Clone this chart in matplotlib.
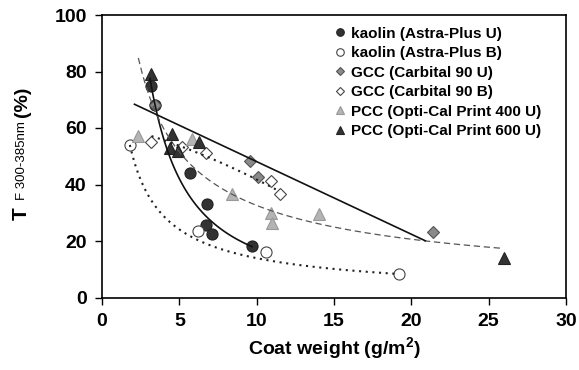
import numpy as np
import matplotlib
matplotlib.use('Agg')
import matplotlib.pyplot as plt

plt.rcParams.update({
    'font.family': 'Liberation Sans',
    'font.weight': 'bold',
    'mathtext.fontset': 'custom',
    'mathtext.rm': 'Liberation Sans:bold',
    'mathtext.bf': 'Liberation Sans:bold',
})

# data
kaolin_u_x = [3.2, 3.4, 5.7, 6.8, 6.7, 7.1, 9.7]
kaolin_u_y = [75, 68, 44, 33, 25.8, 22.5, 18.3]
kaolin_b_x = [1.8, 6.2, 10.6, 19.2]
kaolin_b_y = [54, 23.5, 16, 8.3]
gcc_u_x = [3.4, 9.6, 10.1, 21.4]
gcc_u_y = [68, 48.3, 42.5, 23.2]
gcc_b_x = [3.2, 5.2, 6.7, 10.9, 11.5]
gcc_b_y = [55, 53.4, 51, 41.2, 36.6]
pcc400_x = [2.3, 5.8, 8.4, 10.9, 11.0, 14.0]
pcc400_y = [57, 56, 36.6, 30, 26.5, 29.6]
pcc600_x = [3.2, 4.5, 4.4, 4.9, 6.3, 26.0]
pcc600_y = [79, 58, 53, 52, 55, 13.9]

labels = ['kaolin (Astra-Plus U)', 'kaolin (Astra-Plus B)', 'GCC (Carbital 90 U)',
          'GCC (Carbital 90 B)', 'PCC (Opti-Cal Print 400 U)', 'PCC (Opti-Cal Print 600 U)']

# trend line coefficients (as drawn in the original)
kaolin_u_pow = (330, 1.28, 3.1, 9.7)       # a * x^-b, x range
kaolin_b_pow = (85.9, 0.79, 1.8, 19.0)
pcc_pow = (149, 0.66, 2.35, 25.9)
gcc_u_lin = (-2.57, 73.8, 2.1, 20.9)       # slope, intercept, x range
gcc_b_quad = (-0.0705, -1.33, 62.12, 3.2, 11.5)

fig = plt.figure(figsize=(5.79, 3.70), dpi=100)
ax = fig.add_axes([102/579, 1-297.5/370, 464/579, (297.5-15)/370])

C_DARK = '#333333'
C_MID = '#8a8a8a'
C_LIGHT = '#b4b4b4'

ms = 8
ax.plot(kaolin_u_x, kaolin_u_y, 'o', ms=ms, mfc=C_DARK, mec='#222222', mew=0.8, label=labels[0], zorder=3)
ax.plot(kaolin_b_x, kaolin_b_y, 'o', ms=ms, mfc='white', mec='#444444', mew=0.8, label=labels[1], zorder=3)
ax.plot(gcc_u_x, gcc_u_y, 'D', ms=6.5, mfc=C_MID, mec='#555555', mew=0.8, label=labels[2], zorder=3)
ax.plot(gcc_b_x, gcc_b_y, 'D', ms=6.5, mfc='white', mec='#444444', mew=0.8, label=labels[3], zorder=3)
ax.plot(pcc400_x, pcc400_y, '^', ms=ms, mfc=C_LIGHT, mec='#999999', mew=0.8, label=labels[4], zorder=3)
ax.plot(pcc600_x, pcc600_y, '^', ms=ms, mfc=C_DARK, mec='#222222', mew=0.8, label=labels[5], zorder=3)

# trend lines
a, b, x0, x1 = kaolin_u_pow
xx = np.linspace(x0, x1, 100)
ax.plot(xx, a * xx**-b, '-', color='#111111', lw=1.2, zorder=4)

a, b, x0, x1 = kaolin_b_pow
xx = np.linspace(x0, x1, 100)
ax.plot(xx, a * xx**-b, color='#222222', lw=1.5, ls=(0, (1, 2.2)), zorder=4)

a, b, x0, x1 = pcc_pow
xx = np.linspace(x0, x1, 100)
ax.plot(xx, a * xx**-b, color='#555555', lw=0.9, ls=(0, (5, 3)), zorder=4)

m, c, x0, x1 = gcc_u_lin
xx = np.array([x0, x1])
ax.plot(xx, m * xx + c, '-', color='#111111', lw=1.2, zorder=4)

q2, q1, q0, x0, x1 = gcc_b_quad
xx = np.linspace(x0, x1, 100)
ax.plot(xx, q2 * xx**2 + q1 * xx + q0, color='#222222', lw=1.5, ls=(0, (1, 2.2)), zorder=4)

ax.set_xlim(0, 30)
ax.set_ylim(0, 100)
ax.set_xticks(range(0, 31, 5))
ax.set_yticks(range(0, 101, 20))
ax.tick_params(direction='out', length=5, width=1, labelsize=14, pad=6)
for s in ax.spines.values():
    s.set_linewidth(1.2)
ax.set_xlabel('Coat weight (g/m$^{2}$)', fontsize=14, fontweight='bold', labelpad=4)

# y label in three pieces (big T, subscript, unit)
fig.text(21/579, 1-214/370, 'T', fontsize=15, fontweight='bold', rotation=90, ha='center', va='center')
fig.text(22/579, 1-161/370, 'F 300-385nm', fontsize=9.5, fontweight='normal', rotation=90, ha='center', va='center')
fig.text(22/579, 1-102/370, '(%)', fontsize=14, fontweight='bold', rotation=90, ha='center', va='center')

leg = ax.legend(loc='upper left', bbox_to_anchor=(0.49, 0.98), frameon=False, fontsize=11,
                markerscale=0.68, handlelength=0.6, handletextpad=0.4, labelspacing=0.36,
                borderaxespad=0)
for t in leg.get_texts():
    t.set_fontweight('bold')

fig.savefig('out.png', dpi=100)
